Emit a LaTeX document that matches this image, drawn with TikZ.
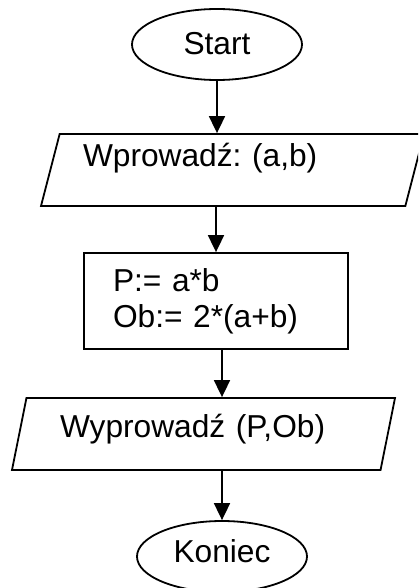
\documentclass[tikz,border=0pt]{standalone}
\usepackage{fontspec}
\setmainfont{Liberation Sans}
\frenchspacing
\usetikzlibrary{shapes.geometric,arrows.meta}

\begin{document}
\begin{tikzpicture}[
  x=1pt,y=-1pt,
  font=\fontsize{31.7pt}{36pt}\selectfont,
  line width=1.8pt,
  terminal/.style={draw,ellipse,minimum width=170pt,minimum height=71pt,inner sep=0pt,text height=24pt},
  iobox/.style={draw,trapezium,trapezium left angle=71.57,trapezium right angle=108.43,
    trapezium stretches body,minimum width=383pt,minimum height=72pt,inner sep=1pt,align=left,text height=24pt},
  procbox/.style={draw,rectangle,minimum width=264pt,minimum height=96pt,inner sep=0pt,text width=206pt,align=left},
  arr/.style={-{Triangle[length=17pt,width=16pt]}}
]
\clip (0,0) rectangle (418,588);
\node[terminal,text depth=3pt] (start) at (217,44.5) {Start};
\node[iobox,text width=299pt,text depth=30pt] (wejscie) at (232.5,170) {Wprowadź: (a,b)};
\node[procbox] (oblicz) at (216,301) {P:= a*b\\Ob:= 2*(a+b)};
\node[iobox,text width=287pt,text depth=17.4pt] (wyjscie) at (203.5,434) {Wyprowadź (P,Ob)};
\node[terminal,text depth=13pt,xshift=0pt] (koniec) at (222,556.5) {Koniec};

\path (start.south) edge[arr] (start.south |- wejscie.north)
(oblicz.north |- wejscie.south) edge[arr] (oblicz.north)
(oblicz.south -| koniec.north) edge[arr] (koniec.north |- wyjscie.north)
(koniec.north |- wyjscie.south) edge[arr] (koniec.north);

\end{tikzpicture}
\end{document}
